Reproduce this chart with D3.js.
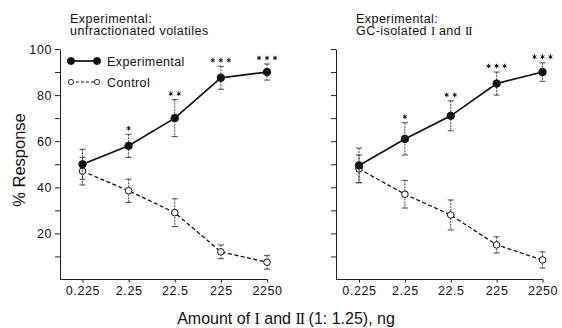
<!DOCTYPE html>
<html>
<head>
<meta charset="utf-8">
<script src="https://cdn.jsdelivr.net/npm/d3@7"></script>
<style>
  html, body { margin: 0; padding: 0; background: #fff; }
  svg { display: block; }
  text { font-family: "Liberation Sans", Arial, sans-serif; fill: #111; }
</style>
</head>
<body>
<svg id="chart" width="562" height="328"></svg>
<script>
// ---------------- data ----------------
const doses = ["0.225", "2.25", "22.5", "225", "2250"];
const yTicks = [10, 20, 30, 40, 50, 60, 70, 80, 90, 100];
const yLabels = [20, 40, 60, 80, 100];

const leftTitle = ["Experimental:", "unfractionated volatiles"];
const leftExpMean = [50, 58, 70, 87.5, 90];
const leftExpErr  = [6.5, 5, 8, 5, 3.5];
const leftCtrlMean = [47, 38.5, 29, 12, 7.5];
const leftCtrlErr  = [6, 5, 6, 3, 3];
const leftStars = ["", "*", "**", "***", "***"];

const rightTitle = ["Experimental:", "GC-isolated I and II"];
const rightExpMean = [49.5, 61, 71, 85, 90];
const rightExpErr  = [7.5, 7, 6.5, 5, 4];
const rightCtrlMean = [48, 37, 28, 15, 8.5];
const rightCtrlErr  = [6, 6, 6.5, 3.5, 3.5];
const rightStars = ["", "*", "**", "***", "***"];

const legendLabels = ["Experimental", "Control"];
const yTitle = "% Response";

// ---------------- drawing ----------------
const svg = d3.select("#chart");
const y = d3.scaleLinear().domain([0, 100]).range([279.5, 49]);

const panels = [
  { axisX: 60, x0: 82.5, x1: 267, title: leftTitle, titleX: 70, labels: true,
    exp: leftExpMean, expErr: leftExpErr, ctrl: leftCtrlMean, ctrlErr: leftCtrlErr, stars: leftStars, legend: true },
  { axisX: 336, x0: 359, x1: 542.5, title: rightTitle, titleX: 356, labels: false,
    exp: rightExpMean, expErr: rightExpErr, ctrl: rightCtrlMean, ctrlErr: rightCtrlErr, stars: rightStars, legend: false }
];

function titleText(sel, str) {
  // render "I" and "II" roman numerals in a serif face, as in the original figure
  const parts = str.split(/(\bI\b|\bII\b)/);
  parts.forEach(p => {
    if (p === "") return;
    const t = sel.append("tspan").text(p);
    if (p === "I" || p === "II") {
      t.style("font-family", "'Liberation Serif', serif")
       .style("letter-spacing", p === "II" ? "-1px" : "0px");
    }
  });
}

const starPath = d3.symbol(d3.symbolAsterisk, 14)();

panels.forEach(p => {
  const x = d3.scalePoint().domain(doses).range([p.x0, p.x1]);
  const g = svg.append("g");

  // x axis
  const xa = g.append("g").attr("transform", `translate(0,${y(0)})`)
    .call(d3.axisBottom(x).tickSize(3).tickPadding(4).tickSizeOuter(0));
  xa.select(".domain").attr("d", `M${p.axisX},0H${p.x1 + 0.5}`).attr("stroke", "#222").attr("stroke-width", 1.2);
  xa.selectAll(".tick line").attr("stroke", "#222");
  xa.selectAll(".tick text").style("font-size", "12.5px").style("letter-spacing", "0.6px")
    .style("font-family", "'Liberation Sans', Arial, sans-serif").attr("fill", "#111");

  // y axis
  const ya = g.append("g").attr("transform", `translate(${p.axisX},0)`)
    .call(d3.axisLeft(y).tickValues(yTicks).tickSize(5).tickPadding(3).tickSizeOuter(0)
      .tickFormat(d => (p.labels && yLabels.includes(d)) ? d : ""));
  ya.select(".domain").attr("stroke", "#222").attr("stroke-width", 1);
  ya.selectAll(".tick line").attr("stroke", "#222");
  ya.selectAll(".tick text").style("font-size", "12.5px").style("letter-spacing", "0.6px")
    .style("font-family", "'Liberation Sans', Arial, sans-serif").attr("fill", "#111");

  // title
  p.title.forEach((line, i) => {
    const t = g.append("text").attr("x", p.titleX).attr("y", 22.5 + i * 12.5)
      .style("font-size", "12.5px").style("letter-spacing", "0.45px");
    titleText(t, line);
  });

  // series
  const series = [
    { mean: p.ctrl, err: p.ctrlErr, dashed: true },
    { mean: p.exp, err: p.expErr, dashed: false }
  ];
  series.forEach(s => {
    const pts = doses.map((d, i) => ({ d, m: s.mean[i], e: s.err[i] }));
    // error bars
    const eb = g.append("g").attr("stroke", "#333").attr("stroke-width", 0.9);
    pts.forEach(pt => {
      const cx = x(pt.d);
      eb.append("line").attr("x1", cx).attr("x2", cx).attr("y1", y(pt.m + pt.e)).attr("y2", y(pt.m - pt.e))
        .attr("stroke-dasharray", "2,1");
      [pt.m + pt.e, pt.m - pt.e].forEach(v => {
        eb.append("line").attr("x1", cx - 3).attr("x2", cx + 3).attr("y1", y(v)).attr("y2", y(v));
      });
    });
    // line
    g.append("path").datum(pts)
      .attr("d", d3.line().x(pt => x(pt.d)).y(pt => y(pt.m)))
      .attr("fill", "none").attr("stroke", "#111")
      .attr("stroke-width", s.dashed ? 1.3 : 1.7)
      .attr("stroke-dasharray", s.dashed ? "4,2.5" : null);
    // markers
    g.selectAll(null).data(pts).join("circle")
      .attr("cx", pt => x(pt.d)).attr("cy", pt => y(pt.m))
      .attr("r", s.dashed ? 3.3 : 3.8)
      .attr("fill", s.dashed ? "#fff" : "#111")
      .attr("stroke", "#111").attr("stroke-width", s.dashed ? 1 : 0.8);
  });

  // significance stars
  doses.forEach((d, i) => {
    const n = p.stars[i].length;
    if (!n) return;
    const top = y(p.exp[i] + p.expErr[i]);
    for (let k = 0; k < n; k++) {
      g.append("path").attr("d", starPath)
        .attr("transform", `translate(${x(d) + (k - (n - 1) / 2) * 8},${top - 6})`)
        .attr("fill", "none").attr("stroke", "#111").attr("stroke-width", 1);
    }
  });

  // legend
  if (p.legend) {
    const lg = g.append("g");
    const rows = [{ y: 61, dashed: false }, { y: 82, dashed: true }];
    rows.forEach((r, i) => {
      lg.append("line").attr("x1", 71).attr("x2", 97).attr("y1", r.y).attr("y2", r.y)
        .attr("stroke", "#111").attr("stroke-width", r.dashed ? 1.2 : 1.7)
        .attr("stroke-dasharray", r.dashed ? "3,2" : null);
      [71, 97].forEach(cx => {
        lg.append("circle").attr("cx", cx).attr("cy", r.y).attr("r", r.dashed ? 2.6 : 3.6)
          .attr("fill", r.dashed ? "#fff" : "#111").attr("stroke", "#111").attr("stroke-width", r.dashed ? 0.9 : 0.8);
      });
      lg.append("text").attr("x", 107).attr("y", r.y + 4.5)
        .style("font-size", "12.5px").style("letter-spacing", "0.4px").text(legendLabels[i]);
    });
  }
});

// axis titles
svg.append("text").attr("transform", "translate(25,160) rotate(-90)")
  .attr("text-anchor", "middle").style("font-size", "16.5px").text(yTitle);

const xt = svg.append("text").attr("x", 286).attr("y", 324).attr("text-anchor", "middle")
  .style("font-size", "16px");
titleText(xt, "Amount of I and II (1: 1.25), ng");
</script>
</body>
</html>
